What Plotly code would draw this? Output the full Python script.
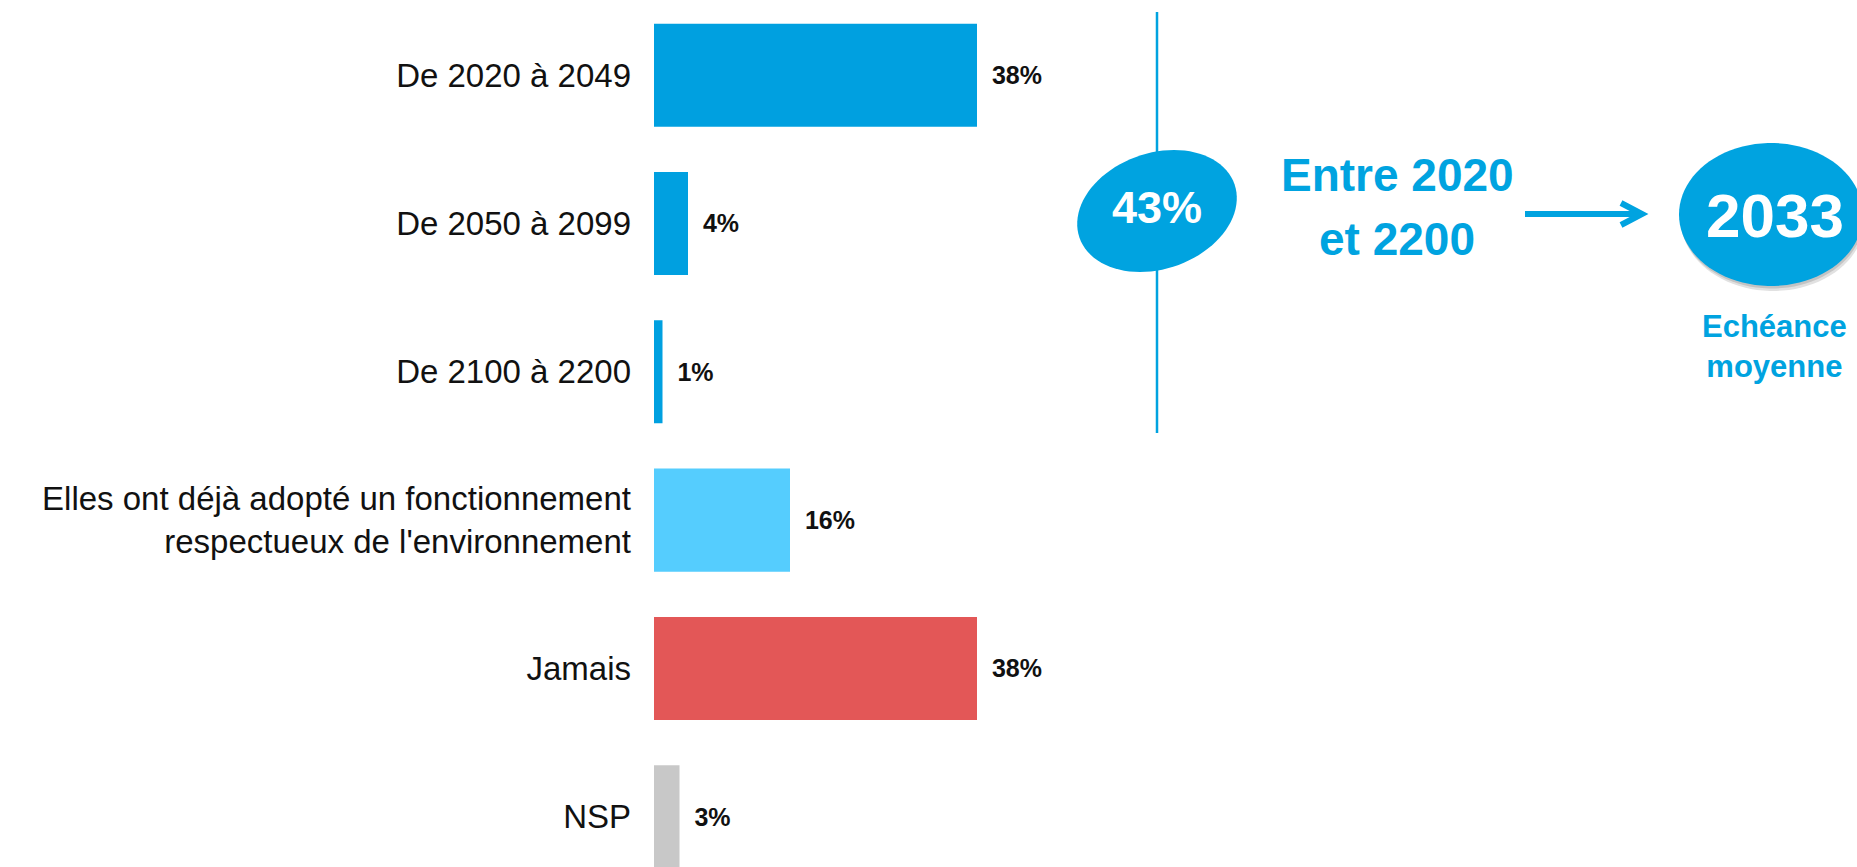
import numpy as np
import plotly.graph_objects as go

W, H = 1857, 867

# data
categories = [
    "De 2020 à 2049",
    "De 2050 à 2099",
    "De 2100 à 2200",
    "Elles ont déjà adopté un fonctionnement<br>respectueux de l'environnement",
    "Jamais",
    "NSP",
]
values = [38, 4, 1, 16, 38, 3]
bar_colors = ["#00A0E0", "#00A0E0", "#00A0E0", "#55CDFE", "#E35757", "#C8C8C8"]

group_share = "43%"
group_label = ["Entre 2020", "et 2200"]
mean_year = "2033"
mean_label = "Echéance<br>moyenne"

BLUE = "#00A3E0"


def px_x(x):
    return x / W


def px_y(y):
    return 1 - y / H


def ellipse_path(cx, cy, a, b, angle_deg, n=90):
    # rotated ellipse in pixel space, converted to paper coords
    t = np.linspace(0, 2 * np.pi, n, endpoint=False)
    th = np.radians(angle_deg)
    xs = cx + a * np.cos(t) * np.cos(th) - b * np.sin(t) * np.sin(th)
    ys = cy - (a * np.cos(t) * np.sin(th) + b * np.sin(t) * np.cos(th))
    pts = [f"{px_x(x):.5f},{px_y(y):.5f}" for x, y in zip(xs, ys)]
    return "M" + " L".join(pts) + " Z"


fig = go.Figure(
    go.Bar(
        y=categories,
        x=values,
        orientation="h",
        marker=dict(color=bar_colors, line=dict(width=0)),
        width=0.695,
        text=[f"\u00a0\u2009{v}%" for v in values],
        textposition="outside",
        constraintext="none",
        textfont=dict(family="Liberation Sans", size=25, color="#111111", weight="bold"),
        hoverinfo="skip",
    )
)

x0 = 654
fig.update_layout(
    width=W,
    height=H,
    margin=dict(l=0, r=0, t=0, b=0),
    paper_bgcolor="white",
    plot_bgcolor="white",
    showlegend=False,
    xaxis=dict(domain=[x0 / W, 1], range=[0, (W - x0) / 8.5], visible=False),
    yaxis=dict(
        type="category",
        categoryorder="array",
        categoryarray=categories,
        range=[5.339, -0.507],
        showgrid=False,
        zeroline=False,
        showline=False,
        ticks="",
        ticklabelstandoff=22,
        tickfont=dict(family="Liberation Sans", size=33, color="#111111"),
    ),
)

shapes = []
# vertical separator
shapes.append(dict(type="line", xref="paper", yref="paper",
                   x0=px_x(1157), x1=px_x(1157), y0=px_y(12), y1=px_y(433),
                   line=dict(color=BLUE, width=2.5)))
# 43% ellipse
shapes.append(dict(type="path", xref="paper", yref="paper",
                   path=ellipse_path(1157, 211, 82, 58, 19),
                   fillcolor=BLUE, line=dict(width=0)))
# arrow
shapes.append(dict(type="line", xref="paper", yref="paper",
                   x0=px_x(1525), x1=px_x(1639), y0=px_y(214), y1=px_y(214),
                   line=dict(color=BLUE, width=6)))
shapes.append(dict(type="path", xref="paper", yref="paper",
                   path=f"M{px_x(1621)},{px_y(203)} L{px_x(1642)},{px_y(214)} L{px_x(1621)},{px_y(225)}",
                   line=dict(color=BLUE, width=6)))
# 2033 bubble with soft shadow
shapes.append(dict(type="path", xref="paper", yref="paper",
                   path=ellipse_path(1773, 219.5, 92, 71.5, 0),
                   fillcolor="rgba(90,90,90,0.18)", line=dict(width=0)))
shapes.append(dict(type="path", xref="paper", yref="paper",
                   path=ellipse_path(1772, 217, 92, 71.5, 0),
                   fillcolor="rgba(90,90,90,0.22)", line=dict(width=0)))
shapes.append(dict(type="path", xref="paper", yref="paper",
                   path=ellipse_path(1771, 214.5, 92, 71.5, 0),
                   fillcolor=BLUE, line=dict(width=0)))
fig.update_layout(shapes=shapes)

ann = dict(xref="paper", yref="paper", showarrow=False, xanchor="center", yanchor="middle")
fig.add_annotation(**ann, x=px_x(1157), y=px_y(207), text=group_share,
                   font=dict(family="Liberation Sans", size=45, color="white", weight="bold"))
for line, yy in zip(group_label, [175, 239]):
    fig.add_annotation(**ann, x=px_x(1397), y=px_y(yy), text=line,
                       font=dict(family="Liberation Sans", size=46, color=BLUE, weight="bold"))
fig.add_annotation(**ann, x=px_x(1775), y=px_y(215), text=mean_year,
                   font=dict(family="Liberation Sans", size=62, color="white", weight="bold"))
fig.add_annotation(**ann, x=px_x(1774), y=px_y(346), text=mean_label,
                   font=dict(family="Liberation Sans", size=31, color=BLUE, weight="bold"))

fig.write_html("out.html", config={"displayModeBar": False},
               post_script="document.body.style.margin='0';")
